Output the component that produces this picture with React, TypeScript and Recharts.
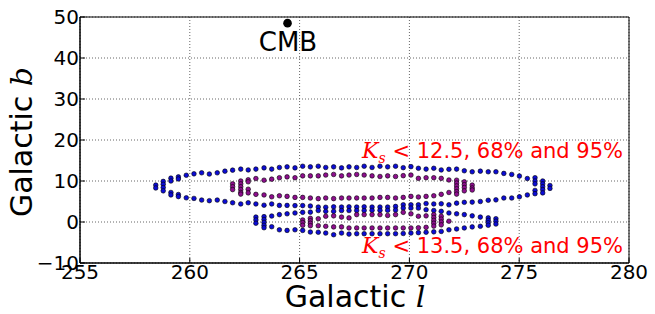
import { ScatterChart, Scatter, XAxis, YAxis, CartesianGrid, ReferenceArea, Customized } from 'recharts'

// contour band points, one entry per grid column: [galactic l, [galactic b ...]]
const upper95: [number, number[]][] = [
    [258.45, [9.0, 8.3]],
    [258.79, [9.9, 9.2, 8.4, 7.6]],
    [259.14, [10.7, 10.0, 7.2, 6.6]],
    [259.48, [11.0, 10.5, 6.7, 6.2]],
    [259.84, [11.4, 5.9]],
    [260.19, [11.75, 5.75]],
    [260.54, [12.0, 5.35]],
    [260.89, [11.7, 5.2]],
    [261.25, [12.0, 5.35]],
    [261.6, [12.4, 5.0]],
    [261.95, [12.65, 4.7]],
    [262.32, [12.9, 4.4]],
    [262.66, [12.7, 4.7]],
    [263.01, [12.9, 4.4]],
    [263.38, [13.2, 4.1]],
    [263.73, [12.9, 4.4]],
    [264.08, [13.3, 4.05]],
    [264.43, [13.45, 4.05]],
    [264.79, [13.2, 4.0]],
    [265.14, [13.6, 4.0]],
    [265.49, [13.45, 3.9]],
    [265.85, [13.6, 3.65]],
    [266.19, [13.3, 3.6]],
    [266.55, [13.45, 3.7]],
    [266.91, [13.2, 3.65]],
    [267.25, [13.45, 3.7]],
    [267.6, [13.3, 3.65]],
    [267.94, [13.6, 3.7]],
    [268.3, [13.3, 3.65]],
    [268.66, [13.6, 3.65]],
    [269.01, [13.45, 3.65]],
    [269.37, [13.6, 3.8]],
    [269.72, [13.25, 4.2]],
    [270.07, [13.5, 4.2]],
    [270.41, [13.1, 4.2]],
    [270.76, [12.9, 4.5]],
    [271.11, [13.1, 4.4]],
    [271.45, [12.7, 4.45]],
    [271.8, [12.85, 4.2]],
    [272.15, [12.9, 4.6]],
    [272.5, [12.5, 4.8]],
    [272.86, [12.25, 4.85]],
    [273.23, [12.4, 5.0]],
    [273.59, [12.25, 5.3]],
    [273.94, [12.25, 5.4]],
    [274.3, [11.85, 5.85]],
    [274.66, [11.6, 5.85]],
    [275.01, [11.2, 6.15]],
    [275.37, [10.6, 6.6]],
    [275.72, [10.8, 10.0, 9.3, 7.7, 6.9]],
    [276.07, [10.0, 9.3, 8.6, 7.9, 7.1]],
    [276.4, [8.9, 8.2]],
]

const upper68: [number, number[]][] = [
    [261.95, [9.3, 8.6, 7.9]],
    [262.32, [10.0, 9.3, 8.6, 7.9, 7.2, 6.8]],
    [262.66, [10.3, 9.8, 8.0, 7.1]],
    [263.01, [10.6, 6.75]],
    [263.38, [10.2, 6.6]],
    [263.73, [10.45, 6.15]],
    [264.08, [10.8, 6.4]],
    [264.43, [11.0, 6.25]],
    [264.79, [10.8, 6.0]],
    [265.14, [11.25, 6.0]],
    [265.49, [11.25, 5.85]],
    [265.85, [11.25, 5.7]],
    [266.19, [11.45, 5.85]],
    [266.55, [11.6, 5.7]],
    [266.91, [11.25, 5.85]],
    [267.25, [11.45, 5.85]],
    [267.6, [11.6, 5.85]],
    [267.94, [11.45, 5.85]],
    [268.3, [11.25, 5.85]],
    [268.66, [11.1, 6.0]],
    [269.01, [11.25, 6.0]],
    [269.37, [11.1, 5.85]],
    [269.72, [11.3, 6.0]],
    [270.07, [11.45, 6.25]],
    [270.41, [10.65, 6.1]],
    [270.76, [10.8, 6.25]],
    [271.11, [10.8, 6.4]],
    [271.45, [10.65, 6.75]],
    [271.8, [10.25, 7.2]],
    [272.15, [10.2, 9.5, 8.8, 8.1, 7.4, 6.8]],
    [272.5, [9.8, 9.1, 8.4, 7.6]],
    [272.86, [9.0, 8.3, 7.8]],
]

const lower95: [number, number[]][] = [
    [263.01, [1.2, 0.5, -0.3]],
    [263.38, [1.3, 0.6, -0.1, -0.8, -1.4]],
    [263.73, [1.45, -1.15]],
    [264.08, [1.8, -1.9]],
    [264.43, [2.0, -2.05]],
    [264.79, [2.2, -1.9]],
    [265.14, [2.35, -2.05]],
    [265.49, [2.4, -2.45]],
    [265.85, [2.8, -2.5]],
    [266.19, [2.6, -2.7]],
    [266.55, [2.6, -3.1]],
    [266.91, [2.8, -2.7]],
    [267.25, [2.8, -2.95]],
    [267.6, [2.8, -2.85]],
    [267.94, [2.8, -2.85]],
    [268.3, [2.85, -2.85]],
    [268.66, [2.85, -2.85]],
    [269.01, [2.85, -2.85]],
    [269.37, [2.9, -2.85]],
    [269.72, [3.4, -2.8]],
    [270.07, [3.4, -2.7]],
    [270.41, [3.4, -2.6]],
    [270.76, [3.0, -2.5]],
    [271.11, [2.8, -2.4]],
    [271.45, [2.6, -2.3]],
    [271.8, [2.2, -1.9]],
    [272.15, [2.0, -1.7]],
    [272.5, [1.8, -1.45]],
    [272.86, [1.5, -1.2]],
    [273.23, [1.2, -1.05]],
    [273.59, [1.0, 0.4, -0.2, -0.8]],
    [273.94, [0.8, 0.2, -0.5]],
]

const lower68: [number, number[]][] = [
    [265.14, [0.5, -0.15, -0.8]],
    [265.49, [0.9, 0.3, -0.3, -0.9]],
    [265.85, [0.8, -0.9]],
    [266.19, [1.4, -1.05]],
    [266.55, [1.5, -1.2]],
    [266.91, [1.2, -1.2]],
    [267.25, [1.0, -1.45]],
    [267.6, [1.8, -1.45]],
    [267.94, [1.8, -1.45]],
    [268.3, [1.8, -1.45]],
    [268.66, [1.8, -1.45]],
    [269.01, [1.6, -1.45]],
    [269.37, [1.8, -1.45]],
    [269.72, [2.35, -1.45]],
    [270.07, [2.0, -1.45]],
    [270.41, [1.4, -1.4]],
    [270.76, [1.5, -1.3]],
    [271.11, [1.8, 1.1, 0.4, -0.3, -1.0]],
    [271.45, [1.4, 0.7, 0.0, -0.7]],
    [271.8, [0.2]],
]

const cmb = [{ l: 264.45, b: 48.5 }]

const lTicks = [255, 260, 265, 270, 275, 280]
const bTicks = [-10, 0, 10, 20, 30, 40, 50]

const BLUE = '#0c0cd6'
const PURPLE = '#8e0e8e'
const SANS = '"DejaVu Sans", sans-serif'
const SERIF = '"DejaVu Serif", serif'

const toPoints = (cols: [number, number[]][]) =>
    cols.flatMap(([l, bs]) => bs.map(b => ({ l, b })))

const dot = (color: string) => (p: any) =>
    <circle cx={p.cx} cy={p.cy} r={2.3} fill={color} stroke="#000" strokeWidth={0.6} />

const fmt = (v: number) => String(v).replace('-', '\u2212')

function Labels() {
    return (
        <g>
            <text x={288} y={51} textAnchor="middle" fontSize={26} fontFamily={SANS} fill="#000">CMB</text>
            <text x={623} y={158} textAnchor="end" fontSize={21} fontFamily={SANS} fill="#ff0000">
                <tspan fontFamily={SERIF} fontStyle="italic" fontSize={22}>K</tspan>
                <tspan fontFamily={SERIF} fontStyle="italic" fontSize={14} dy={5}>s</tspan>
                <tspan dy={-5}>{' < 12.5, 68% and 95%'}</tspan>
            </text>
            <text x={623} y={253} textAnchor="end" fontSize={21} fontFamily={SANS} fill="#ff0000">
                <tspan fontFamily={SERIF} fontStyle="italic" fontSize={22}>K</tspan>
                <tspan fontFamily={SERIF} fontStyle="italic" fontSize={14} dy={5}>s</tspan>
                <tspan dy={-5}>{' < 13.5, 68% and 95%'}</tspan>
            </text>
            <text x={355} y={307} textAnchor="middle" fontSize={30} fontFamily={SANS} fill="#000">
                {'Galactic '}<tspan fontFamily={SERIF} fontStyle="italic">l</tspan>
            </text>
            <text x={32} y={142} transform="rotate(-90 32 142)" textAnchor="middle" fontSize={30} fontFamily={SANS} fill="#000">
                {'Galactic '}<tspan fontFamily={SERIF} fontStyle="italic">b</tspan>
            </text>
        </g>
    )
}

export default function App() {
    return (
        <div style={{ position: 'absolute', left: 0, top: 0, width: 655, height: 314, background: '#fff' }}>
            <ScatterChart width={655} height={314} margin={{ top: 17, right: 26, bottom: 21, left: 0 }}>
                <CartesianGrid stroke="#666" strokeDasharray="1 2" strokeWidth={1} />
                <XAxis
                    type="number"
                    dataKey="l"
                    domain={[255, 280]}
                    ticks={lTicks}
                    height={30}
                    tickSize={-5}
                    tickMargin={7}
                    tick={{ fontSize: 20, fill: '#000', fontFamily: SANS }}
                    stroke="#000"
                    allowDataOverflow
                />
                <YAxis
                    type="number"
                    dataKey="b"
                    domain={[-10, 50]}
                    ticks={bTicks}
                    width={80}
                    tickSize={-5}
                    tickMargin={6}
                    tickFormatter={fmt}
                    tick={{ fontSize: 20, fill: '#000', fontFamily: SANS }}
                    stroke="#000"
                    allowDataOverflow
                />
                <ReferenceArea x1={255} x2={280} y1={-10} y2={50} fill="none" stroke="#000" strokeWidth={1} ifOverflow="visible" />
                <Scatter data={toPoints(upper95)} shape={dot(BLUE)} isAnimationActive={false} />
                <Scatter data={toPoints(upper68)} shape={dot(PURPLE)} isAnimationActive={false} />
                <Scatter data={toPoints(lower95)} shape={dot(BLUE)} isAnimationActive={false} />
                <Scatter data={toPoints(lower68)} shape={dot(PURPLE)} isAnimationActive={false} />
                <Scatter
                    data={cmb}
                    shape={(p: any) => <circle cx={p.cx} cy={p.cy} r={4.3} fill="#000" />}
                    isAnimationActive={false}
                />
                <Customized component={Labels} />
            </ScatterChart>
        </div>
    )
}
